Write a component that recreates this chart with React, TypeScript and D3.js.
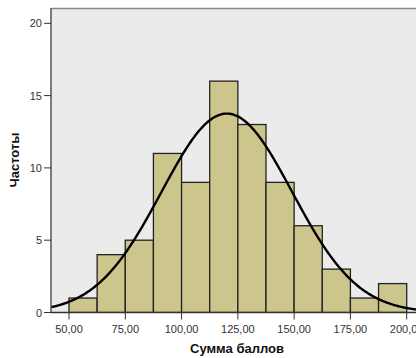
import React from "react";
import * as d3 from "d3";

const binStarts = [50, 62.5, 75, 87.5, 100, 112.5, 125, 137.5, 150, 162.5, 175, 187.5];
const binWidth = 12.5;
const counts = [1, 4, 5, 11, 9, 16, 13, 9, 6, 3, 1, 2];
const xTicks = [50, 75, 100, 125, 150, 175, 200];
const yTicks = [0, 5, 10, 15, 20];
const fitMean = 120.1;
const fitStd = 29.0;

const W = 416;
const H = 358;
const left = 51;
const top = 8;
const bottom = 312.5;
const right = 416;

export default function App() {
  const x = d3.scaleLinear().domain([50, 200]).range([69, 406.7]);
  const y = d3.scaleLinear().domain([0, 20]).range([bottom, 23.3]);
  const n = d3.sum(counts);
  const xMin = x.invert(left);
  const xMax = x.invert(right);
  const pts = d3.range(0, 301).map((i) => {
    const v = xMin + ((xMax - xMin) * i) / 300;
    const pdf = Math.exp(-0.5 * ((v - fitMean) / fitStd) ** 2) / (fitStd * Math.sqrt(2 * Math.PI));
    return [v, n * binWidth * pdf] as [number, number];
  });
  const line = d3
    .line<[number, number]>()
    .x((d) => x(d[0]))
    .y((d) => y(d[1]))
    .curve(d3.curveBasis);
  const fmt = (v: number) => v.toFixed(2).replace(".", ",");
  const font = "Arial, 'Liberation Sans', sans-serif";
  return (
    <svg width={W} height={H} style={{ position: "absolute", left: 0, top: 0 }}>
      <defs>
        <clipPath id="plot">
          <rect x={left} y={top} width={right - left} height={bottom - top} />
        </clipPath>
      </defs>
      <rect x={0} y={0} width={W} height={H} fill="#ffffff" />
      <rect x={left} y={top} width={right - left} height={bottom - top} fill="#ebebeb" />
      <line x1={left} x2={right} y1={top + 0.5} y2={top + 0.5} stroke="#8a8a8a" strokeWidth={1.5} />
      <g clipPath="url(#plot)">
        {binStarts.map((s, i) => (
          <rect
            key={i}
            x={x(s)}
            y={y(counts[i])}
            width={x(s + binWidth) - x(s)}
            height={bottom - y(counts[i])}
            fill="#cdc68c"
            stroke="#222"
            strokeWidth={1.3}
          />
        ))}
        <path d={line(pts) || ""} fill="none" stroke="#000" strokeWidth={2.4} />
      </g>
      <line x1={left} x2={left} y1={top} y2={bottom} stroke="#555" strokeWidth={1.5} />
      <line x1={left} x2={right} y1={bottom} y2={bottom} stroke="#333" strokeWidth={1.5} />
      {yTicks.map((t) => (
        <g key={t}>
          <line x1={left - 7} x2={left} y1={y(t)} y2={y(t)} stroke="#333" strokeWidth={1} />
          <text x={left - 9} y={y(t) + 4} textAnchor="end" fontSize={11} fill="#333" fontFamily={font}>
            {t}
          </text>
        </g>
      ))}
      {xTicks.map((t) => (
        <g key={t}>
          <line x1={x(t)} x2={x(t)} y1={bottom} y2={bottom + 7} stroke="#333" strokeWidth={1} />
          <text x={x(t)} y={bottom + 20} textAnchor="middle" fontSize={11} fill="#333" fontFamily={font}>
            {fmt(t)}
          </text>
        </g>
      ))}
      <text x={237} y={353} textAnchor="middle" fontSize={13} fontWeight="bold" fill="#111" fontFamily={font}>
        Сумма баллов
      </text>
      <text
        transform={`translate(19,160) rotate(-90)`}
        textAnchor="middle"
        fontSize={13}
        fontWeight="bold"
        fill="#111"
        fontFamily={font}
      >
        Частоты
      </text>
    </svg>
  );
}
